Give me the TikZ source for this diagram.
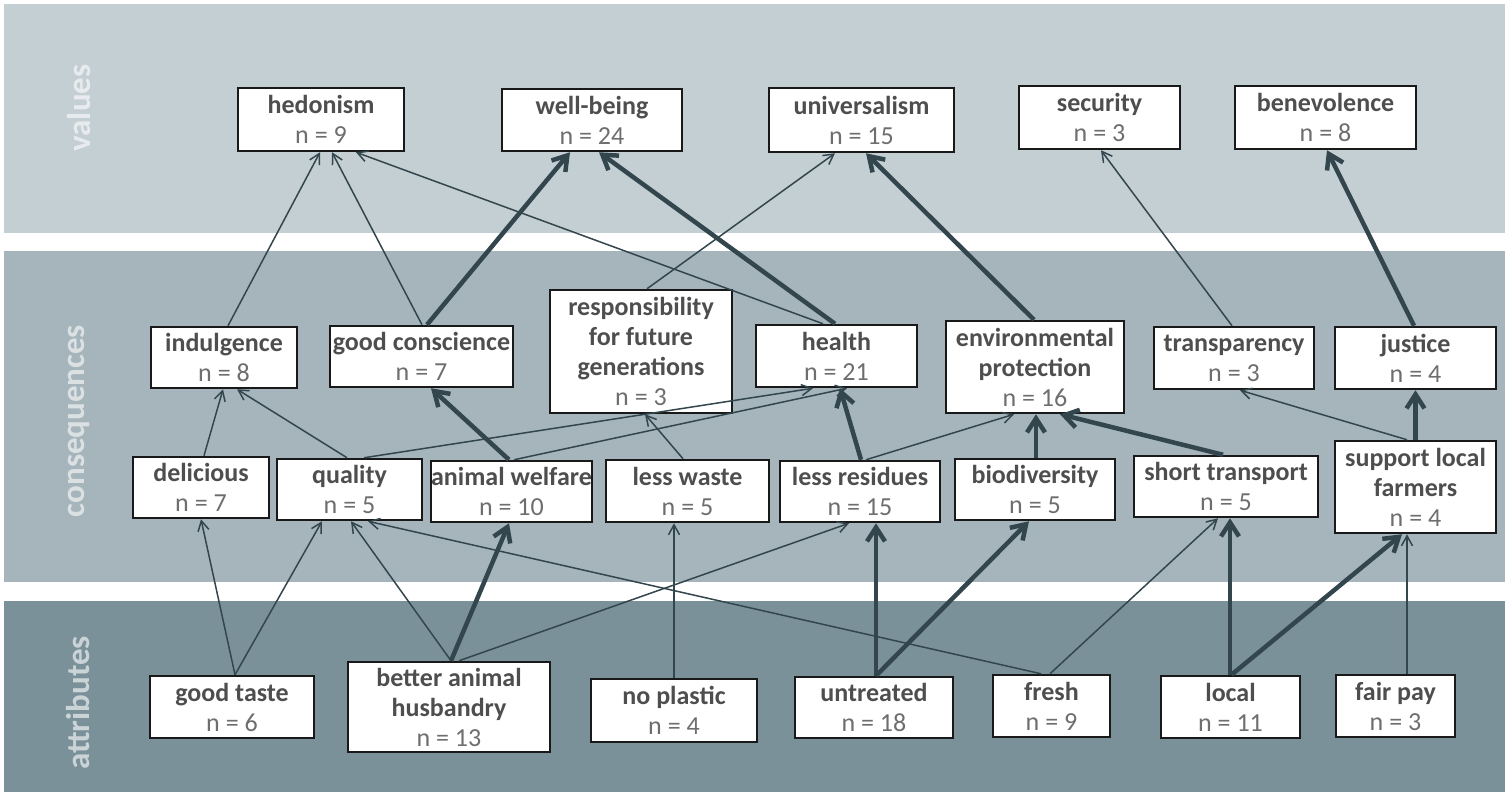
\documentclass[tikz,border=0pt]{standalone}
\usepackage{fontspec}
\setmainfont{Carlito}
\usetikzlibrary{arrows.meta}
\definecolor{valband}{HTML}{C3CFD3}
\definecolor{conband}{HTML}{A5B5BB}
\definecolor{attband}{HTML}{7B9199}
\definecolor{arrc}{HTML}{33464E}
\definecolor{nmcol}{HTML}{4E4E4E}
\definecolor{nccol}{HTML}{6E6E6E}
\newcommand{\nm}[1]{{\bfseries\color{nmcol}#1}}
\newcommand{\nc}[1]{{\color{nccol}#1}}
\tikzset{
  box/.style={draw=black!90, line width=2.5pt, fill=white, align=center, inner sep=0pt,
    font=\fontsize{26}{30}\selectfont},
  band/.style={draw=none},
  bandlabel/.style={rotate=90, text=white, text opacity=0.6, font=\bfseries\fontsize{33}{36}\selectfont},
  thinarr/.style={draw=arrc, line width=1.5pt, -{Straight Barb[length=10pt,width=11pt]}},
  thickarr/.style={draw=arrc, line width=4.5pt, -{Straight Barb[length=14pt,width=18pt]}}
}
\begin{document}
\begin{tikzpicture}[x=1pt, y=-1pt]
\useasboundingbox (0,0) rectangle (1508,795);
\fill[white] (0,0) rectangle (1508,795);
% bands
\fill[valband] (4,4) rectangle (1505,233);
\fill[conband] (4,251) rectangle (1505,582);
\fill[attband] (4,601) rectangle (1505,792);
\node[bandlabel] (lv) at (79,108) {values};
\node[bandlabel] (lc) at (79,421) {consequences};
\node[bandlabel] (la) at (78,703) {attributes};
% values
\node[box, minimum width=166pt, minimum height=63pt] (hed) at (321,119.5) {\nm{hedonism}\\\nc{n = 9}};
\node[box, minimum width=180pt, minimum height=62pt] (wel) at (592,120) {\nm{well-being}\\\nc{n = 24}};
\node[box, minimum width=185pt, minimum height=64pt] (uni) at (861.5,120) {\nm{universalism}\\\nc{n = 15}};
\node[box, minimum width=161pt, minimum height=63pt] (sec) at (1099.5,117.5) {\nm{security}\\\nc{n = 3}};
\node[box, minimum width=181pt, minimum height=63pt] (ben) at (1325.5,117.5) {\nm{benevolence}\\\nc{n = 8}};
% consequences upper
\node[box, minimum width=146pt, minimum height=61pt] (ind) at (224,357.5) {\nm{indulgence}\\\nc{n = 8}};
\node[box, minimum width=183pt, minimum height=61pt] (goo) at (421.5,356.5) {\nm{good conscience}\\\nc{n = 7}};
\node[box, minimum width=182pt, minimum height=123pt] (res) at (641,351.5) {\nm{responsibility}\\\nm{for future}\\\nm{generations}\\\nc{n = 3}};
\node[box, minimum width=161pt, minimum height=62pt] (hea) at (836.5,356) {\nm{health}\\\nc{n = 21}};
\node[box, minimum width=178pt, minimum height=92pt] (env) at (1035,367) {\nm{environmental}\\\nm{protection}\\\nc{n = 16}};
\node[box, minimum width=160pt, minimum height=62pt] (tra) at (1234,358) {\nm{transparency}\\\nc{n = 3}};
\node[box, minimum width=161pt, minimum height=62pt] (jus) at (1415.5,358) {\nm{justice}\\\nc{n = 4}};
% consequences lower
\node[box, minimum width=136pt, minimum height=61pt] (del) at (201,487.5) {\nm{delicious}\\\nc{n = 7}};
\node[box, minimum width=145pt, minimum height=61pt] (qua) at (349.5,489.5) {\nm{quality}\\\nc{n = 5}};
\node[box, minimum width=161pt, minimum height=61pt] (ani) at (511.5,491.5) {\nm{animal welfare}\\\nc{n = 10}};
\node[box, minimum width=163pt, minimum height=62pt] (les) at (687.5,491) {\nm{less waste}\\\nc{n = 5}};
\node[box, minimum width=160pt, minimum height=61pt] (lre) at (860,491.5) {\nm{less residues}\\\nc{n = 15}};
\node[box, minimum width=160pt, minimum height=61pt] (bio) at (1035,489.5) {\nm{biodiversity}\\\nc{n = 5}};
\node[box, minimum width=184pt, minimum height=61pt] (sho) at (1226,486.5) {\nm{short transport}\\\nc{n = 5}};
\node[box, minimum width=161pt, minimum height=92pt] (slf) at (1415.5,487) {\nm{support local}\\\nm{farmers}\\\nc{n = 4}};
% attributes
\node[box, minimum width=164pt, minimum height=62pt] (gta) at (232,707) {\nm{good taste}\\\nc{n = 6}};
\node[box, minimum width=202pt, minimum height=90pt] (bah) at (449,707) {\nm{better animal}\\\nm{husbandry}\\\nc{n = 13}};
\node[box, minimum width=166pt, minimum height=63pt] (npl) at (674,710.5) {\nm{no plastic}\\\nc{n = 4}};
\node[box, minimum width=158pt, minimum height=61pt] (unt) at (874,707.5) {\nm{untreated}\\\nc{n = 18}};
\node[box, minimum width=117pt, minimum height=62pt] (fre) at (1051.5,706) {\nm{fresh}\\\nc{n = 9}};
\node[box, minimum width=139pt, minimum height=62pt] (loc) at (1230.5,707) {\nm{local}\\\nc{n = 11}};
\node[box, minimum width=119pt, minimum height=62pt] (fai) at (1395.5,706) {\nm{fair pay}\\\nc{n = 3}};
% consequences -> values
\draw[thinarr] ([xshift=4pt]ind.north) -- ([xshift=-1pt]hed.south);
\draw[thinarr] ([xshift=0.5pt]goo.north) -- ([xshift=11pt]hed.south);
\draw[thinarr] ([xshift=-13.5pt]hea.north) -- ([xshift=35pt]hed.south);
\draw[thickarr] ([xshift=5.5pt]goo.north) -- ([xshift=-22pt]wel.south);
\draw[thickarr] ([xshift=-1.5pt]hea.north) -- ([xshift=7pt]wel.south);
\draw[thinarr] ([xshift=6pt]res.north) -- ([xshift=-26.5pt]uni.south);
\draw[thickarr] ([xshift=-1pt]env.north) -- ([xshift=4.5pt]uni.south);
\draw[thinarr] ([xshift=-2pt]tra.north) -- ([xshift=1.5pt]sec.south);
\draw[thickarr] ([xshift=-1.5pt]jus.north) -- ([xshift=1.5pt]ben.south);
% lower -> upper consequences
\draw[thinarr] ([xshift=3pt]del.north) -- ([xshift=-1pt]ind.south);
\draw[thinarr] ([xshift=-2.5pt]qua.north) -- ([xshift=13pt]ind.south);
\draw[thickarr] ([xshift=-2.5pt]ani.north) -- ([xshift=9.5pt]goo.south);
\draw[thinarr] ([xshift=14.5pt]qua.north) -- ([xshift=-23.5pt]hea.south);
\draw[thinarr] ([xshift=2.5pt]ani.north) -- ([xshift=10.5pt]hea.south);
\draw[thinarr] ([xshift=-4.5pt]les.north) -- ([xshift=4pt]res.south);
\draw[thickarr] ([xshift=1pt]lre.north) -- ([xshift=3.5pt]hea.south);
\draw[thinarr] ([xshift=6pt]lre.north) -- ([xshift=-21pt]env.south);
\draw[thickarr] ([xshift=1pt]bio.north) -- ([xshift=1pt]env.south);
\draw[thickarr] ([xshift=-3pt]sho.north) -- ([xshift=25pt]env.south);
\draw[thinarr] ([xshift=-8.5pt]slf.north) -- ([xshift=6pt]tra.south);
\draw[thickarr] (slf.north) -- (jus.south);
% attributes -> consequences
\draw[thinarr] ([xshift=3pt]gta.north) -- (del.south);
\draw[thinarr] ([xshift=3pt]gta.north) -- ([xshift=-27.5pt]qua.south);
\draw[thinarr] ([xshift=2pt]bah.north) -- ([xshift=1.5pt]qua.south);
\draw[thickarr] ([xshift=2pt]bah.north) -- ([xshift=-2.5pt]ani.south);
\draw[thinarr] ([xshift=10pt]bah.north) -- ([xshift=-11pt]lre.south);
\draw[thinarr] (npl.north) -- ([xshift=-13.5pt]les.south);
\draw[thickarr] ([xshift=2pt]unt.north) -- ([xshift=16pt]lre.south);
\draw[thickarr] ([xshift=2pt]unt.north) -- ([xshift=-6pt]bio.south);
\draw[thinarr] ([xshift=-10.5pt]fre.north) -- ([xshift=18.5pt]qua.south);
\draw[thinarr] ([xshift=-1.5pt]fre.north) -- ([xshift=-8pt]sho.south);
\draw[thickarr] ([xshift=-0.5pt]loc.north) -- ([xshift=4pt]sho.south);
\draw[thickarr] ([xshift=1pt]loc.north) -- ([xshift=-13.5pt]slf.south);
\draw[thinarr] ([xshift=11.5pt]fai.north) -- ([xshift=-8.5pt]slf.south);
\end{tikzpicture}
\end{document}
